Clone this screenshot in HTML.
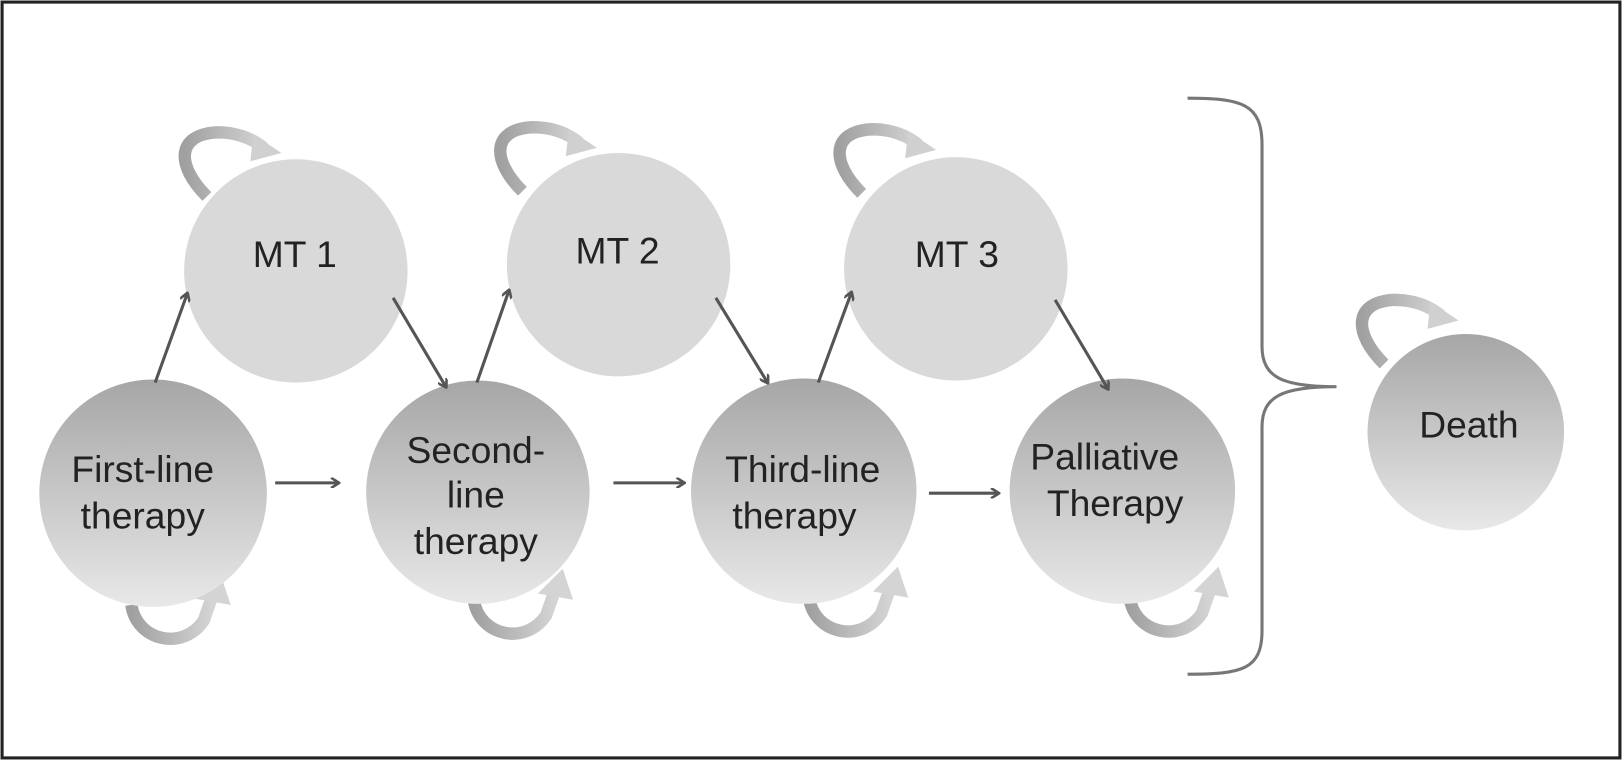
<!DOCTYPE html>
<html><head><meta charset="utf-8"><style>
html,body{margin:0;padding:0;background:#fff}
svg{display:block}
text{font-family:"Liberation Sans",sans-serif;font-size:36px;fill:#222;text-anchor:middle}
</style></head><body>
<svg width="1622" height="760" viewBox="0 0 1568 735" preserveAspectRatio="none" xmlns="http://www.w3.org/2000/svg">
<defs>
<linearGradient id="g" x1="0" y1="0" x2="0" y2="1">
<stop offset="0" stop-color="#a6a6a6"/><stop offset="1" stop-color="#e8e8e8"/>
</linearGradient>
<linearGradient id="lp" x1="0" y1="0" x2="1" y2="0">
<stop offset="0" stop-color="#a0a0a0"/><stop offset="1" stop-color="#d4d4d4"/>
</linearGradient>
<marker id="ah" markerWidth="10" markerHeight="10" refX="8" refY="5" orient="auto" markerUnits="userSpaceOnUse">
<path d="M1,0 L9,5 L1,10" fill="none" stroke="#555" stroke-width="2.5"/>
</marker>
<g id="topLoop">
<path d="M0,0 C-30,-30 -30,-60 10,-62 C30,-62 45,-55 55,-47" fill="none" stroke="url(#lp)" stroke-width="12"/>
<polygon points="45,-60 72,-42 42,-34" fill="#d0d0d0"/>
</g>
<g id="botLoop">
<path d="M0,0 C5,35 50,45 70,15 L78,-8" fill="none" stroke="url(#lp)" stroke-width="12"/>
<polygon points="62,-6 86,-30 96,0" fill="#d4d4d4"/>
</g>
</defs>
<rect x="2" y="2" width="1564" height="731" fill="#fff" stroke="#222" stroke-width="3"/>

<use href="#topLoop" x="200" y="190"/>
<use href="#topLoop" x="505" y="185"/>
<use href="#topLoop" x="833" y="187"/>
<use href="#topLoop" x="1338" y="352"/>
<use href="#botLoop" x="127" y="585"/>
<use href="#botLoop" x="458" y="580"/>
<use href="#botLoop" x="782" y="578"/>
<use href="#botLoop" x="1092" y="578"/>

<circle cx="286" cy="262" r="108" fill="#d9d9d9"/>
<circle cx="598" cy="256" r="108" fill="#d9d9d9"/>
<circle cx="924" cy="260" r="108" fill="#d9d9d9"/>
<circle cx="148" cy="477" r="110" fill="url(#g)"/>
<circle cx="462" cy="476" r="108" fill="url(#g)"/>
<circle cx="777" cy="475" r="109" fill="url(#g)"/>
<circle cx="1085" cy="475" r="109" fill="url(#g)"/>
<circle cx="1417" cy="418" r="95" fill="url(#g)"/>

<g stroke="#555" stroke-width="3" marker-end="url(#ah)">
<line x1="150" y1="370" x2="181" y2="284"/>
<line x1="380" y1="288" x2="431" y2="374"/>
<line x1="461" y1="370" x2="492" y2="281"/>
<line x1="692" y1="288" x2="742" y2="370"/>
<line x1="791" y1="370" x2="823" y2="283"/>
<line x1="1020" y1="290" x2="1071" y2="376"/>
<line x1="266" y1="467" x2="327" y2="467"/>
<line x1="593" y1="467" x2="661" y2="467"/>
<line x1="898" y1="477" x2="965" y2="477"/>
</g>

<path d="M1148,95 C1200,95 1220,100 1220,140 L1220,335 C1220,365 1240,374 1292,374 C1240,374 1220,383 1220,413 L1220,610 C1220,648 1200,652 1148,652" fill="none" stroke="#777" stroke-width="3"/>

<text x="285" y="258">MT 1</text>
<text x="597" y="255">MT 2</text>
<text x="925" y="258">MT 3</text>
<text x="138" y="466">First-line</text>
<text x="138" y="511">therapy</text>
<text x="460" y="448">Second-</text>
<text x="460" y="491">line</text>
<text x="460" y="536">therapy</text>
<text x="776" y="466">Third-line</text>
<text x="768" y="511">therapy</text>
<text x="1068" y="454">Palliative</text>
<text x="1078" y="499">Therapy</text>
<text x="1420" y="423">Death</text>
</svg>
</body></html>
